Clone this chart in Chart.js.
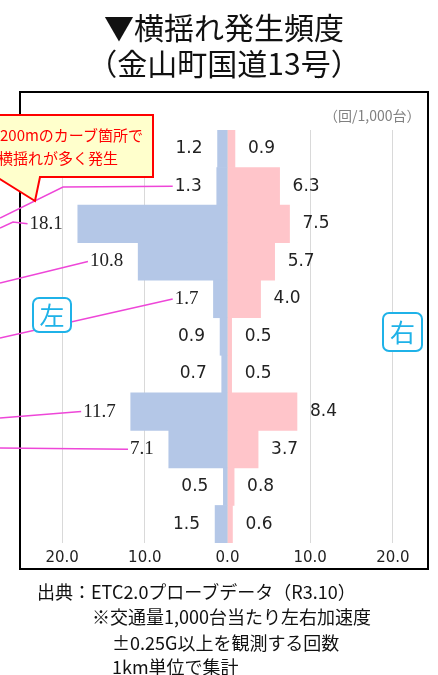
<!DOCTYPE html>
<html>
<head>
<meta charset="utf-8">
<script src="https://cdn.jsdelivr.net/npm/chart.js@4.4.1/dist/chart.umd.min.js"></script>
<style>
  body { margin: 0; width: 438px; height: 675px; overflow: hidden; background: #fff;
         font-family: "Noto Sans CJK JP", sans-serif; color: #111; }
  #wrap { position: absolute; left: 0; top: 0; width: 438px; height: 675px; }
  .t { position: absolute; white-space: nowrap; }
  .lr { position: absolute; box-sizing: border-box; border: 2px solid #1fb2e8; border-radius: 7px;
        background: #fff; color: #1fb2e8; font-size: 25px; text-align: center; }
</style>
</head>
<body>
<div id="wrap"><canvas id="c"></canvas></div>

<div class="t" style="left:5px;width:438px;top:8px;text-align:center;font-size:30px;line-height:36px;">▼横揺れ発生頻度<br>（金山町国道13号）</div>
<div class="t" style="left:324px;top:105px;font-size:14px;line-height:20px;color:#808080;">（回/1,000台）</div>

<div class="t" style="left:0px;top:123px;font-size:15px;line-height:23px;color:#ff0000;">200mのカーブ箇所で<br><span style="margin-left:-2px">横揺れが多く発生</span></div>

<div class="lr" style="left:32px;top:297px;width:40px;height:36px;line-height:31px;">左</div>
<div class="lr" style="left:382px;top:312px;width:41px;height:40px;line-height:35px;">右</div>

<div class="t" style="left:37px;top:579px;font-size:18px;line-height:25px;">出典：ETC2.0プローブデータ（R3.10）</div>
<div class="t" style="left:92px;top:604px;font-size:18px;line-height:25px;">※交通量1,000台当たり左右加速度</div>
<div class="t" style="left:112px;top:630px;font-size:18px;line-height:25px;">±0.25G以上を観測する回数</div>
<div class="t" style="left:112px;top:654px;font-size:18px;line-height:25px;">1km単位で集計</div>

<script>
// 1km区間ごとの横揺れ発生頻度（回/1,000台）
const sections = ['1', '2', '3', '4', '5', '6', '7', '8', '9', '10', '11'];
const leftVals = [1.2, 1.3, 18.1, 10.8, 1.7, 0.9, 0.7, 11.7, 7.1, 0.5, 1.5];
const rightVals = [0.9, 6.3, 7.5, 5.7, 4.0, 0.5, 0.5, 8.4, 3.7, 0.8, 0.6];
const tickVals = [-20, -10, 0, 10, 20];

// 引き出し線つきのラベル（区間の番号）
const serifIdx = [2, 3, 4, 7, 8];
const leaderStarts = {
  1: [[0, 218], [63, 187]],
  2: [[0, 228], [13, 222]],
  3: [[0, 283]],
  4: [[0, 338]],
  7: [[0, 418]],
  8: [[0, 448]]
};

// 枠と吹き出し、数値ラベル
const annotations = {
  id: 'annotations',
  beforeDraw(chart) {
    const c = chart.ctx;
    c.save();
    c.strokeStyle = '#000';
    c.lineWidth = 2;
    c.strokeRect(20, 92, 408, 477);
    c.restore();
  },
  afterDatasetsDraw(chart) {
    const c = chart.ctx;
    const xs = chart.scales.x;
    const ys = chart.scales.y;
    c.save();
    c.textBaseline = 'middle';
    // 左側
    leftVals.forEach(function(v, i) {
      const y = ys.getPixelForValue(i);
      const xr = xs.getPixelForValue(-v) - 15;
      const txt = v.toFixed(1);
      c.font = serifIdx.includes(i) ? '19px "Liberation Serif"' : '17px "DejaVu Sans"';
      const w = c.measureText(txt).width;
      if (leaderStarts[i]) {
        c.strokeStyle = '#ee46d8';
        c.lineWidth = 1.5;
        c.beginPath();
        leaderStarts[i].forEach(function(p, k) {
          if (k === 0) c.moveTo(p[0], p[1]); else c.lineTo(p[0], p[1]);
        });
        c.lineTo(xr - w - 2, y);
        c.stroke();
      }
      c.fillStyle = '#222';
      c.textAlign = 'right';
      c.fillText(txt, xr, y);
    });
    // 右側
    c.font = '17px "DejaVu Sans"';
    c.textAlign = 'left';
    rightVals.forEach(function(v, i) {
      const y = ys.getPixelForValue(i);
      c.fillStyle = '#222';
      c.fillText(v.toFixed(1), xs.getPixelForValue(v) + 13, y);
    });

    // 吹き出し
    c.fillStyle = '#ffffcc';
    c.strokeStyle = '#ff0000';
    c.lineWidth = 2;
    c.beginPath();
    c.moveTo(-5, 115);
    c.lineTo(153, 115);
    c.lineTo(153, 177);
    c.lineTo(40, 177);
    c.lineTo(35, 201);
    c.lineTo(-5, 176);
    c.closePath();
    c.fill();
    c.stroke();
    c.restore();
  }
};

const ctx = document.getElementById('c').getContext('2d');
const chart = new Chart(ctx, {
  type: 'bar',
  data: {
    labels: sections,
    datasets: [
      { label: '左', data: leftVals.map(v => -v), backgroundColor: '#b4c7e7',
        barPercentage: 1, categoryPercentage: 1 },
      { label: '右', data: rightVals, backgroundColor: '#ffc5ca',
        barPercentage: 1, categoryPercentage: 1 }
    ]
  },
  options: {
    indexAxis: 'y',
    responsive: true,
    maintainAspectRatio: false,
    animation: false,
    layout: { padding: { left: 29, right: 12, top: 130, bottom: 102 } },
    plugins: { legend: { display: false }, tooltip: { enabled: false } },
    scales: {
      x: {
        stacked: true,
        min: -24,
        max: 24,
        afterBuildTicks: function(scale) {
          scale.ticks = tickVals.map(v => ({ value: v }));
        },
        ticks: {
          padding: 6,
          color: '#222',
          font: { family: 'DejaVu Sans', size: 15 },
          callback: v => Math.abs(v).toFixed(1)
        },
        grid: { color: '#d9d9d9', drawTicks: false },
        border: { display: false }
      },
      y: {
        stacked: true,
        display: false
      }
    }
  },
  plugins: [annotations]
});
</script>
</body>
</html>
